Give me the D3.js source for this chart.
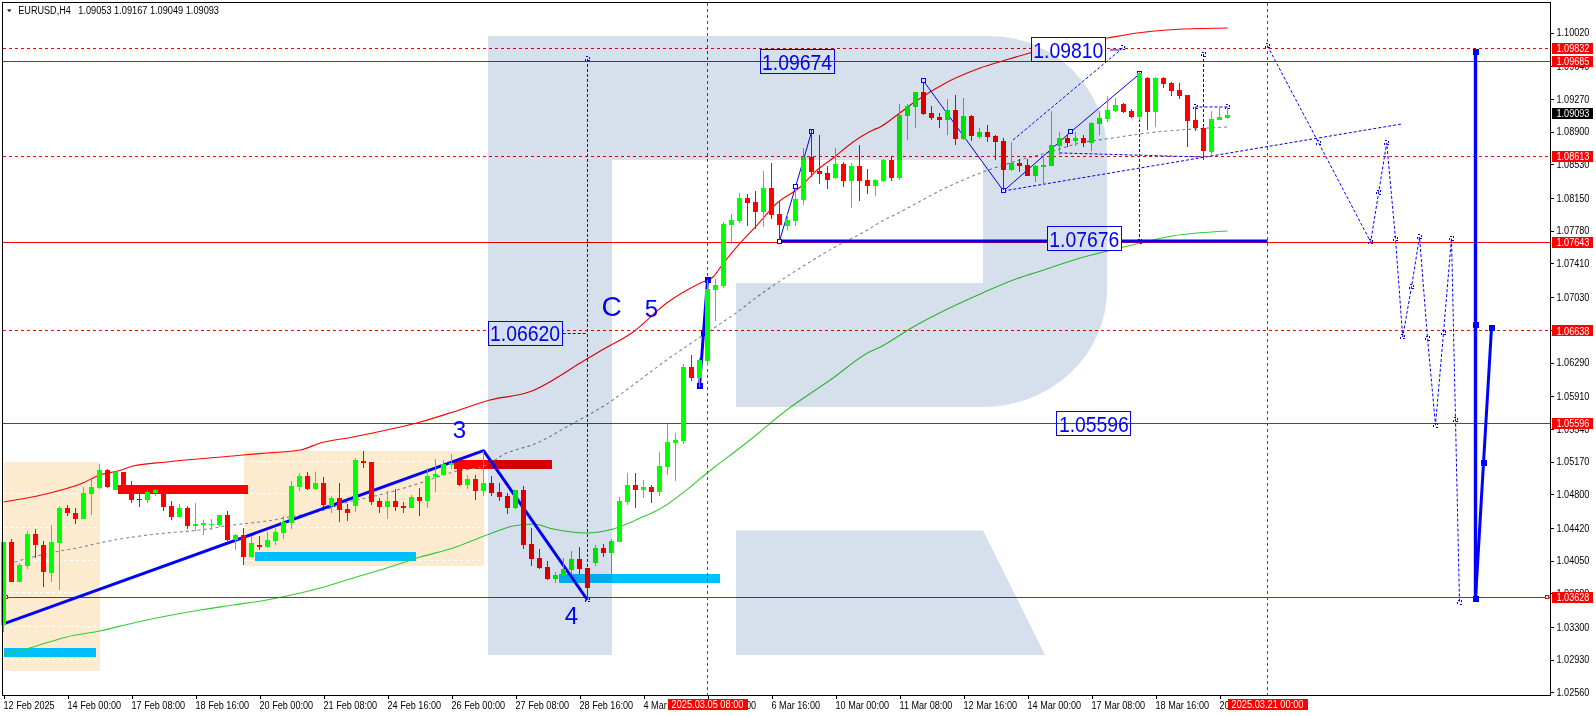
<!DOCTYPE html>
<html>
<head>
<meta charset="utf-8">
<script src="https://cdn.jsdelivr.net/npm/d3@7/dist/d3.min.js"></script>
<style>
html,body{margin:0;padding:0;background:#fff;overflow:hidden}
svg{display:block}
text{font-family:"Liberation Sans",Arial,sans-serif}
</style>
</head>
<body>
<svg id="chart" width="1596" height="716"></svg>
<script>
// ---------- candle data (EURUSD H4, one entry per bar) ----------
const opens=[1.03322,1.04260,1.03812,1.03993,1.04351,1.04226,1.03913,1.04253,1.04645,1.04588,
1.04520,1.04807,1.04871,1.05075,1.04848,1.05052,1.04811,1.04743,1.04739,1.04811,
1.04811,1.04667,1.04543,1.04645,1.04441,1.04453,1.04456,1.04449,1.04566,1.04279,
1.04339,1.04091,1.04226,1.04204,1.04272,1.04362,1.04475,1.04882,1.05007,1.04860,
1.04927,1.04667,1.04758,1.04633,1.04667,1.05176,1.05165,1.04724,1.04656,1.04724,
1.04667,1.04644,1.04769,1.04724,1.04995,1.05018,1.05131,1.05086,1.04905,1.04973,
1.04837,1.04927,1.04825,1.04780,1.04644,1.04848,1.04237,1.04079,1.03977,1.03842,
1.03875,1.03943,1.04068,1.03966,1.04022,1.04192,1.04136,1.04260,1.04712,1.04905,
1.04848,1.04882,1.04826,1.05109,1.05380,1.05403,1.06240,1.06115,1.06307,1.07110,
1.07156,1.07846,1.07891,1.08151,1.08106,1.07993,1.08264,1.07970,1.07834,1.07891,
1.08128,1.08615,1.08456,1.08434,1.08373,1.08535,1.08343,1.08513,1.08354,1.08287,
1.08343,1.08581,1.08377,1.09078,1.09180,1.09350,1.09112,1.09067,1.09033,1.09146,
1.08818,1.09078,1.08841,1.08897,1.08852,1.08796,1.08468,1.08547,1.08524,1.08400,
1.08502,1.08513,1.08739,1.08830,1.08796,1.08830,1.08773,1.08988,1.09044,1.09135,
1.09214,1.09135,1.09067,1.09508,1.09124,1.09508,1.09452,1.09372,1.09316,1.09033,
1.08943,1.08671,1.09033,1.09053];
const highs=[1.04264,1.04294,1.04027,1.04385,1.04407,1.04272,1.04453,1.04667,1.04679,1.04645,
1.04882,1.04969,1.05142,1.05082,1.05063,1.05052,1.04950,1.04811,1.04848,1.04860,
1.04826,1.04724,1.04690,1.04667,1.04701,1.04509,1.04520,1.04566,1.04611,1.04351,
1.04419,1.04324,1.04328,1.04373,1.04419,1.04554,1.04950,1.05041,1.05052,1.05052,
1.04995,1.04780,1.04927,1.04690,1.05210,1.05289,1.05165,1.04758,1.04837,1.04859,
1.04712,1.04792,1.04871,1.05097,1.05199,1.05187,1.05255,1.05120,1.05018,1.05018,
1.05289,1.05006,1.04927,1.04814,1.04848,1.04893,1.04418,1.04181,1.04045,1.03921,
1.04079,1.04158,1.04203,1.03966,1.04226,1.04237,1.04294,1.04769,1.05040,1.05040,
1.04962,1.04905,1.05278,1.05595,1.05493,1.06274,1.06375,1.06340,1.07223,1.07235,
1.07879,1.07970,1.08207,1.08196,1.08230,1.08456,1.08547,1.08117,1.07970,1.08241,
1.08716,1.08920,1.08863,1.08513,1.08716,1.08558,1.08547,1.08750,1.08479,1.08366,
1.08592,1.08626,1.09214,1.09214,1.09350,1.09448,1.09191,1.09112,1.09271,1.09316,
1.09282,1.09090,1.08943,1.08977,1.08863,1.08830,1.08784,1.08592,1.08592,1.08524,
1.08637,1.09135,1.08897,1.08863,1.08897,1.08863,1.09010,1.09135,1.09305,1.09282,
1.09225,1.09158,1.09576,1.09519,1.09519,1.09519,1.09463,1.09452,1.09316,1.09180,
1.08965,1.09135,1.09180,1.09167];
const lows=[1.03246,1.03812,1.03812,1.03959,1.04083,1.03755,1.03808,1.03717,1.04554,1.04464,
1.04517,1.04566,1.04863,1.04875,1.04848,1.04803,1.04701,1.04656,1.04701,1.04781,
1.04611,1.04509,1.04543,1.04404,1.04385,1.04339,1.04396,1.04434,1.04268,1.04170,
1.04000,1.04076,1.04170,1.04189,1.04226,1.04294,1.04407,1.04837,1.04852,1.04852,
1.04660,1.04592,1.04490,1.04497,1.04599,1.05097,1.04678,1.04588,1.04520,1.04611,
1.04588,1.04641,1.04554,1.04644,1.04825,1.05014,1.05086,1.04893,1.04859,1.04735,
1.04780,1.04780,1.04724,1.04577,1.04633,1.04181,1.03989,1.03955,1.03830,1.03796,
1.03819,1.03898,1.03887,1.03604,1.03989,1.04090,1.03887,1.04260,1.04678,1.04644,
1.04758,1.04701,1.04781,1.05018,1.04950,1.05369,1.06081,1.06013,1.06251,1.06760,
1.07133,1.07631,1.07868,1.07834,1.07800,1.07823,1.07913,1.07676,1.07789,1.07834,
1.08072,1.08388,1.08309,1.08253,1.08362,1.08275,1.08038,1.08117,1.08196,1.08174,
1.08328,1.08343,1.08354,1.08807,1.08943,1.09090,1.09033,1.08943,1.08863,1.08750,
1.08807,1.08796,1.08818,1.08784,1.08581,1.08241,1.08456,1.08445,1.08400,1.08332,
1.08298,1.08513,1.08637,1.08728,1.08739,1.08728,1.08682,1.08863,1.09010,1.09124,
1.09112,1.09056,1.09033,1.08920,1.08954,1.09395,1.09305,1.09271,1.08728,1.08909,
1.08581,1.08626,1.09033,1.09049];
const closes=[1.04264,1.03812,1.04000,1.04351,1.04226,1.03925,1.04260,1.04645,1.04592,1.04520,
1.04814,1.04882,1.05075,1.04882,1.05056,1.04811,1.04739,1.04739,1.04826,1.04852,
1.04660,1.04547,1.04645,1.04437,1.04464,1.04475,1.04464,1.04566,1.04283,1.04339,
1.04091,1.04249,1.04207,1.04283,1.04373,1.04486,1.04894,1.05007,1.04860,1.04928,
1.04678,1.04758,1.04622,1.04588,1.05187,1.05153,1.04712,1.04656,1.04724,1.04656,
1.04648,1.04769,1.04724,1.05006,1.05029,1.05142,1.05153,1.04905,1.04973,1.04837,
1.04927,1.04814,1.04769,1.04644,1.04848,1.04226,1.04068,1.03966,1.03842,1.03887,
1.03955,1.04068,1.03955,1.03740,1.04192,1.04136,1.04271,1.04724,1.04905,1.04848,
1.04882,1.04826,1.05120,1.05391,1.05414,1.06240,1.06115,1.06319,1.07122,1.07167,
1.07857,1.07902,1.08151,1.08094,1.07993,1.08264,1.07959,1.07846,1.07902,1.08140,
1.08615,1.08445,1.08422,1.08354,1.08535,1.08343,1.08513,1.08343,1.08287,1.08354,
1.08581,1.08377,1.09090,1.09191,1.09350,1.09101,1.09056,1.09033,1.09146,1.08818,
1.09078,1.08852,1.08897,1.08841,1.08784,1.08468,1.08547,1.08513,1.08400,1.08513,
1.08524,1.08750,1.08830,1.08773,1.08830,1.08773,1.08999,1.09056,1.09146,1.09203,
1.09124,1.09067,1.09565,1.09124,1.09508,1.09440,1.09361,1.09305,1.09022,1.08943,
1.08682,1.09044,1.09067,1.09093];

// ---------- moving averages read at knots (bar index, price) ----------
const redMaBars=[0,5.8,9.9,12,14.3,16.2,20.4,28.7,32.9,37.1,39.6,43.7,47.9,52.1,56.2,60.8,65.7,72.7,74.6,78.7,82.9,87.1,88.7,90,92.1,94.2,96.7,99.6,101.7,103.7,106.2,108.7,109.6,111.7,113.7,118,122.1,124.9,128.3,138,141.7,145.4,153];
const redMaVals=[1.04712,1.04814,1.04927,1.05018,1.05063,1.05120,1.05165,1.05233,1.05267,1.05300,1.05380,1.05448,1.05527,1.05617,1.05730,1.05866,1.05956,1.06318,1.06420,1.06635,1.06963,1.07189,1.07257,1.07415,1.07642,1.07845,1.08094,1.08275,1.08467,1.08603,1.08784,1.08920,1.08954,1.09089,1.09225,1.09463,1.09621,1.09700,1.09791,1.09960,1.10017,1.10051,1.10073];
const greyMaBars=[1.4,5.8,9.2,12,16.2,20.4,24.6,28.7,32.9,37.1,39.2,42.7,47.9,52.1,56.2,60.4,62.4,66.7,70.8,75.8,78.7,82.9,87.1,91.2,95.4,99.6,103.7,108,109.6,112.1,113.7,118,122.1,126.2,130.4,134.6,138.7,143,147.1,153];
const greyMaVals=[1.04034,1.04136,1.04192,1.04249,1.04317,1.04362,1.04396,1.04452,1.04497,1.04565,1.04599,1.04701,1.04814,1.04927,1.05052,1.05131,1.05244,1.05380,1.05583,1.05843,1.06036,1.06318,1.06579,1.06827,1.07110,1.07359,1.07585,1.07789,1.07879,1.07992,1.08071,1.08275,1.08433,1.08558,1.08660,1.08773,1.08829,1.08886,1.08920,1.08954];
const greenMaBars=[0,3.7,7.9,12,16.2,20.4,24.6,28.7,32.9,37.1,39.6,43.7,47.9,52.1,56.2,60.4,63.7,66.2,68.7,72.9,76.2,79.6,81.8,88.9,93.3,97.9,103.7,108,109.6,113.7,118,122.1,126.2,130.4,134.6,138,142.1,145.4,153];
const greenMaVals=[1.02982,1.03072,1.03186,1.03253,1.03344,1.03423,1.03491,1.03547,1.03604,1.03683,1.03740,1.03853,1.03966,1.04090,1.04192,1.04339,1.04441,1.04464,1.04407,1.04362,1.04407,1.04531,1.04622,1.05108,1.05414,1.05753,1.06115,1.06398,1.06465,1.06692,1.06895,1.07065,1.07223,1.07348,1.07472,1.07551,1.07642,1.07710,1.07777];

// ---------- axes ----------
const yTicks=[1.1002,1.0964,1.0927,1.089,1.0853,1.0815,1.0778,1.0741,1.0703,1.0666,1.0629,1.0591,1.0554,1.0517,1.048,1.0442,1.0405,1.0368,1.033,1.0293,1.0256];
const xTickBars=[0,8,16,24,32,40,48,56,64,72,80,88,96,104,112,120,128,136,144,152];
const xTickLabels=["12 Feb 2025","14 Feb 00:00","17 Feb 08:00","18 Feb 16:00","20 Feb 00:00","21 Feb 08:00","24 Feb 16:00","26 Feb 00:00","27 Feb 08:00","28 Feb 16:00","4 Mar 00:00","5 Mar 08:00","6 Mar 16:00","10 Mar 00:00","11 Mar 08:00","12 Mar 16:00","14 Mar 00:00","17 Mar 08:00","18 Mar 16:00","20 Mar 00:00"];

// ---------- price levels and time markers ----------
const solidLevels=[1.09685,1.07643,1.05596,1.03628];
const dashedLevels=[1.09832,1.08613,1.06638];
const lastPrice=1.09093;
const timeMarkerBars=[88,158];
const timeMarkerLabels=["2025.03.05 08:00","2025.03.21 00:00"];

// ---------- zones: [bar0, bar1, price0, price1] ----------
const orangeZones=[[0,12,1.05165,1.02801],[30,60,1.05289,1.03989]];
const redBands=[[14.35,30.5,1.04905,1.04806],[56.3,68.6,1.05187,1.05086]];
const blueBands=[[0,11.6,1.03061,1.02959],[31.4,51.6,1.04147,1.04048],[69.4,89.6,1.03898,1.03800]];

// ---------- wave drawings ----------
const thickWave=[[0,1.03333],[60,1.05293],[73,1.03604]];
const wave5=[[87,1.06024],[87.5,1.06624],[88,1.07223]];
const thinWaveA=[[97,1.07664],[99,1.08275],[101,1.08897]];
const thinWaveB=[[115,1.09474],[125,1.08230],[133.4,1.08897],[142,1.09553]];
const flatLine=[[97,1.07664],[158,1.07664]];
const dashLower=[[125,1.08230],[174.8,1.08988]];
const dashUpper=[[126.2,1.08807],[139.9,1.09847]];
const dashFlat=[[132,1.08660],[150,1.08614]];
const dashVert1=[[142,1.09553],[142,1.07664]];
const dashVert2=[[150,1.09779],[150,1.08580]];
const dashVert3=[[73,1.09723],[73,1.03604]];
const dashTop=[[149,1.08942],[149,1.0918],[153,1.0918]];
const forecastDash=[[158,1.0987],[164.4,1.08773],[170.9,1.07653],[171.9,1.08218],[172.9,1.08773],[174,1.07687],[174.9,1.06579],[176,1.07144],[177,1.0771],[178,1.06567],[179,1.05583],[180,1.06624],[181,1.07698],[181.5,1.0564],[182,1.03581]];
const forecastThickA=[[184,1.09802],[184,1.06714],[184,1.03615]];
const forecastThickB=[[184,1.03615],[185,1.05153],[186,1.0668]];

// ---------- annotations ----------
const priceBoxes=[["1.09674",99.2,1.09689,false],["1.09810",133.1,1.09825,true],["1.07676",135.1,1.07687,true],["1.06620",65.2,1.06618,true],["1.05596",136.3,1.05595,false]];
const waveLabels=[["3",57,1.05527,24],["4",71,1.03424,24],["C",76,1.06918,28],["5",81,1.06906,24]];
const header="EURUSD,H4";
const headerValues="1.09053 1.09167 1.09049 1.09093";

// ---------- scales ----------
const x=d3.scaleLinear().domain([0,153]).range([3.5,1227.5]);
const y=d3.scaleLinear().domain([1.0256,1.1002]).range([692.3,32.7]);
const svg=d3.select("#chart");
const RED="#ff0000",BLUE="#0000ff",FRAME_R=1550.5,FRAME_B=695.5;
const pathOf=d3.line().x(d=>x(d[0])).y(d=>y(d[1]));
const rectOf=(g,zones,fill)=>g.selectAll(null).data(zones).join("rect")
  .attr("x",d=>x(d[0])).attr("width",d=>x(d[1])-x(d[0]))
  .attr("y",d=>y(d[2])).attr("height",d=>y(d[3])-y(d[2])).attr("fill",fill).attr("shape-rendering","crispEdges");
// the reference font has taller, narrower digits: size 10 squeezed to the 9px advance
const tall=sel=>sel.each(function(){
  const t=d3.select(this);
  t.attr("font-size",9);
  const w=this.getComputedTextLength();
  t.attr("font-size",10).attr("textLength",w*1.01).attr("lengthAdjust","spacingAndGlyphs");
});

// zones
const gZones=svg.append("g");
rectOf(gZones,orangeZones,"#fdebd0");
orangeZones.forEach(z=>{
  gZones.selectAll(null).data(yTicks.filter(t=>t<=z[2]&&t>=z[3])).join("line")
   .attr("x1",x(z[0])).attr("x2",x(z[1])).attr("y1",d=>Math.round(y(d))-0.5).attr("y2",d=>Math.round(y(d))-0.5)
   .attr("stroke","#fff").attr("stroke-dasharray","3,3").attr("shape-rendering","crispEdges");
});
rectOf(gZones,redBands,RED);
rectOf(gZones,blueBands,"#00bfff");

// moving averages
const maLine=(bars,vals,color,dash)=>svg.append("path")
  .attr("d",d3.line().curve(d3.curveMonotoneX).x(d=>x(d[0])).y(d=>y(d[1]))(bars.map((b,i)=>[b,vals[i]])))
  .attr("fill","none").attr("stroke",color).attr("stroke-width",1.1).attr("stroke-dasharray",dash||null);
maLine(redMaBars,redMaVals,"#ff0000");
maLine(greyMaBars,greyMaVals,"#778899","3,3");
maLine(greenMaBars,greenMaVals,"#32cd32");

// levels
const gLev=svg.append("g").attr("transform","translate(0,-0.8)");
gLev.selectAll(".s").data(solidLevels).join("line").attr("class","s")
 .attr("x1",3).attr("x2",FRAME_R).attr("y1",d=>y(d)).attr("y2",d=>y(d)).attr("stroke",RED).attr("shape-rendering","crispEdges");
gLev.selectAll(".d").data(dashedLevels).join("line").attr("class","d")
 .attr("x1",3).attr("x2",FRAME_R).attr("y1",d=>y(d)).attr("y2",d=>y(d)).attr("stroke",RED).attr("stroke-dasharray","3,3").attr("shape-rendering","crispEdges");
svg.selectAll(".tm").data(timeMarkerBars).join("line").attr("class","tm")
 .attr("x1",d=>x(d)).attr("x2",d=>x(d)).attr("y1",3).attr("y2",FRAME_B).attr("stroke",RED).attr("stroke-dasharray","3,3").attr("shape-rendering","crispEdges");
// level handles
[[0,1.03628],[192.6,1.03628]].forEach(p=>svg.append("rect")
 .attr("x",x(p[0])+1).attr("y",y(p[1])-2.8).attr("width",3).attr("height",3).attr("fill","#fff").attr("stroke",RED).attr("shape-rendering","crispEdges"));

// wave drawings
const lineOf=(pts,w,dash)=>svg.append("path").attr("d",pathOf(pts)).attr("fill","none")
 .attr("stroke",BLUE).attr("stroke-width",w).attr("stroke-dasharray",dash||null).attr("stroke-linejoin","round");
const squares=(pts,size,hollow)=>svg.selectAll(null).data(pts).join("rect")
 .attr("x",d=>x(d[0])-size/2).attr("y",d=>y(d[1])-size/2).attr("width",size).attr("height",size)
 .attr("fill",hollow?"#fff":BLUE).attr("stroke",hollow?BLUE:"none").attr("shape-rendering","crispEdges");
const ticksOn=(pts)=>svg.selectAll(null).data(pts).join("rect")
 .attr("x",d=>x(d[0])-2).attr("y",d=>y(d[1])-2).attr("width",4).attr("height",4)
 .attr("fill","none").attr("stroke",BLUE).attr("stroke-dasharray","2,2").attr("shape-rendering","crispEdges");

lineOf(thickWave,3);
lineOf(flatLine,3);
lineOf(thinWaveA,1);
lineOf(thinWaveB,1);
const D="3,2";
[dashLower,dashUpper,dashFlat,dashVert1,dashVert2,dashVert3,dashTop,forecastDash].forEach(l=>lineOf(l,1,D));
lineOf(wave5,3);
lineOf(forecastThickA,3.4);
lineOf(forecastThickB,3);
squares(wave5,6,false);
squares(forecastThickA,6,false);
squares(forecastThickB,6,false);
squares(thinWaveA,4,true);
squares(thinWaveB,4,true);
ticksOn(forecastDash);
ticksOn([[73,1.09723],[73,1.03604],[142,1.09553],[142,1.07664],[150,1.09779],[149,1.0918],[153,1.0918],[139.9,1.09847]]);

// candles
const bars=d3.range(opens.length);
const gC=svg.append("g").attr("shape-rendering","crispEdges");
const colr=i=>closes[i]>=opens[i]?"#00ff00":RED;
gC.selectAll(".w").data(bars).join("rect").attr("class","w")
 .attr("x",i=>x(i)-0.5).attr("width",1).attr("y",i=>y(highs[i])).attr("height",i=>Math.max(1,y(lows[i])-y(highs[i]))).attr("fill",colr);
gC.selectAll(".b").data(bars).join("rect").attr("class","b")
 .attr("x",i=>x(i)-2.5).attr("width",5)
 .attr("y",i=>y(Math.max(opens[i],closes[i]))).attr("height",i=>Math.max(1,Math.abs(y(opens[i])-y(closes[i])))).attr("fill",colr);

// price boxes
const boxes=svg.selectAll(null).data(priceBoxes).join("g")
 .attr("transform",d=>`translate(${x(d[1])},${y(d[2])})`);
boxes.append("rect").attr("x",-37).attr("y",-12).attr("width",74).attr("height",24)
 .attr("fill",d=>d[3]?"#fff":"none").attr("stroke",BLUE).attr("shape-rendering","crispEdges");
boxes.append("text").text(d=>d[0]).attr("y",8).attr("x",-35).attr("font-size",22).attr("fill",BLUE)
 .attr("textLength",70).attr("lengthAdjust","spacingAndGlyphs");
// box leaders
lineOf([[138.3,1.09825],[139.5,1.09825]],1);
lineOf([[69.9,1.06618],[73,1.06618]],1,"3,2");

// wave labels
svg.selectAll(null).data(waveLabels).join("text").text(d=>d[0])
 .attr("x",d=>x(d[1])).attr("y",d=>y(d[2])).attr("font-size",d=>d[3]).attr("fill",BLUE)
 .attr("text-anchor","middle").attr("dominant-baseline","central");

// watermark, multiplied over everything on the plot
svg.append("path")
 .attr("d","M488,36H990A117,117 0 0 1 1107,153V290A124,117 0 0 1 983,407H736V283H983V160H612V655H488Z M736,530.5H983L1045,655H736Z")
 .attr("fill","#d6e0ec").style("mix-blend-mode","multiply");

// frame
svg.append("rect").attr("x",2.5).attr("y",2.5).attr("width",FRAME_R-2.5).attr("height",FRAME_B-2.5)
 .attr("fill","none").attr("stroke","#000").attr("shape-rendering","crispEdges");

// axes
const yAxis=d3.axisRight(y).tickValues(yTicks).tickFormat(d=>d.toFixed(5)).tickSize(3).tickPadding(3);
const gy=svg.append("g").attr("transform",`translate(${FRAME_R},0)`).call(yAxis);
const xAxis=d3.axisBottom(x).tickValues(xTickBars).tickFormat((d,i)=>xTickLabels[i]).tickSize(3).tickPadding(2);
const gx=svg.append("g").attr("transform",`translate(0,${FRAME_B})`).call(xAxis);
[gy,gx].forEach(g=>{g.select(".domain").remove();g.selectAll("line").attr("stroke","#000").attr("shape-rendering","crispEdges");
 g.selectAll("text").attr("font-family","Liberation Sans").attr("fill","#000").call(tall);});
gx.selectAll("text").attr("text-anchor","start").attr("x",-0.5).attr("y",6);

// price tags
const tag=(v,fill)=>{const g=svg.append("g").attr("transform",`translate(1552,${y(v)-0.8})`);
 g.append("rect").attr("y",-5.5).attr("width",41).attr("height",11).attr("fill",fill).attr("shape-rendering","crispEdges");
 g.append("text").text(v.toFixed(5)).attr("x",4.5).attr("y",3.6).attr("fill","#fff").call(tall);};
[...solidLevels,...dashedLevels].forEach(v=>tag(v,RED));
tag(lastPrice,"#000");

// time tags
timeMarkerBars.forEach((b,i)=>{const g=svg.append("g").attr("transform",`translate(${x(b)},704.5)`);
 g.append("rect").attr("x",-40).attr("y",-5.5).attr("width",80).attr("height",11).attr("fill",RED).attr("shape-rendering","crispEdges");
 g.append("text").text(timeMarkerLabels[i]).attr("x",-36).attr("y",3.6).attr("fill","#fff")
  .attr("font-size",10).attr("textLength",72).attr("lengthAdjust","spacingAndGlyphs");});

// header
svg.append("path").attr("d","M7,9.5H11.5L9.2,12Z").attr("fill","#000");
svg.append("text").text(header).attr("x",18.3).attr("y",14).attr("fill","#000").call(tall);
svg.append("text").text(headerValues).attr("x",78.3).attr("y",14).attr("fill","#000")
 .attr("font-size",10).attr("textLength",140.7).attr("lengthAdjust","spacingAndGlyphs");
</script>
</body>
</html>
